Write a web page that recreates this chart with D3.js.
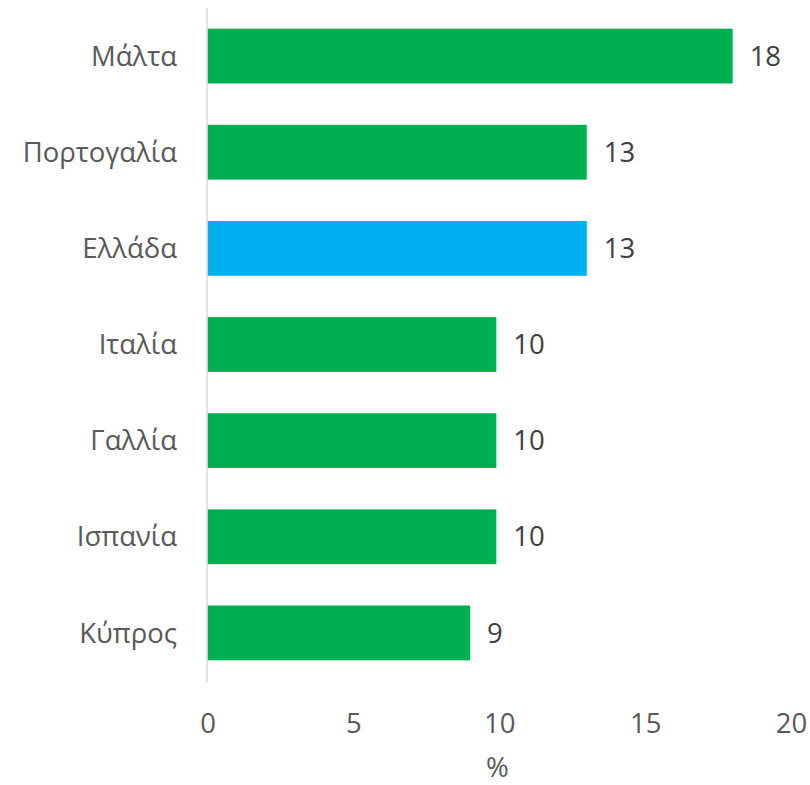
<!DOCTYPE html>
<html lang="el">
<head>
<meta charset="UTF-8">
<title>Chart</title>
<script src="https://cdn.jsdelivr.net/npm/d3@7"></script>
<style>
    body { margin: 0; background: #fff; }
    svg text { font-family: "Open Sans", "Noto Sans", sans-serif; }
</style>
</head>
<body>
<svg id="chart" width="810" height="785"></svg>
<script>
    // data
    var countries = ["Μάλτα", "Πορτογαλία", "Ελλάδα", "Ιταλία", "Γαλλία", "Ισπανία", "Κύπρος"];
    var values = [18.0, 13.0, 13.0, 9.9, 9.9, 9.9, 9.0];
    var highlight = ["Ελλάδα"];
    var xTicks = [0, 5, 10, 15, 20];
    var xTitle = "%";

    var data = countries.map((c, i) => ({ country: c, value: values[i] }));

    var svg = d3.select("#chart");
    var fontSize = 27.5;

    var x = d3.scaleLinear()
        .domain([0, 20])
        .range([207.5, 791]);

    var y = d3.scaleBand()
        .domain(countries)
        .range([8, 681])
        .paddingInner(0.43)
        .paddingOuter(0.215);

    // bars
    svg.append("g")
        .selectAll("rect")
        .data(data)
        .enter()
        .append("rect")
        .attr("x", x(0))
        .attr("y", d => y(d.country))
        .attr("width", d => x(d.value) - x(0))
        .attr("height", y.bandwidth())
        .attr("fill", d => highlight.includes(d.country) ? "#00B0F0" : "#00B050");

    // vertical axis line
    svg.append("line")
        .attr("x1", x(0) - 0.5).attr("x2", x(0) - 0.5)
        .attr("y1", 8).attr("y2", 682)
        .attr("stroke", "#d9d9d9")
        .attr("stroke-width", 1.5);

    // category labels
    svg.append("g")
        .selectAll("text")
        .data(countries)
        .enter()
        .append("text")
        .attr("x", 177)
        .attr("y", d => y(d) + y.bandwidth() / 2)
        .attr("dy", "0.35em")
        .attr("text-anchor", "end")
        .attr("fill", "#595959")
        .style("font-size", fontSize + "px")
        .text(d => d);

    // data labels
    svg.append("g")
        .selectAll("text")
        .data(data)
        .enter()
        .append("text")
        .attr("x", d => x(d.value) + 17)
        .attr("y", d => y(d.country) + y.bandwidth() / 2)
        .attr("dy", "0.35em")
        .attr("fill", "#404040")
        .style("font-size", fontSize + "px")
        .text(d => d3.format(".0f")(d.value));

    // x axis ticks (no lines)
    var xAxis = g => g
        .attr("transform", "translate(0,723)")
        .call(d3.axisBottom(x).tickValues(xTicks).tickSize(0).tickPadding(0))
        .call(g => g.select(".domain").remove())
        .call(g => g.selectAll("text")
            .attr("dy", "0.35em")
            .attr("fill", "#595959")
            .style("font-size", fontSize + "px")
            .style("font-family", "\"Open Sans\", sans-serif"));

    svg.append("g").call(xAxis);

    svg.append("text")
        .attr("x", (x(0) + x(20)) / 2 - 2)
        .attr("y", 767)
        .attr("dy", "0.35em")
        .attr("text-anchor", "middle")
        .attr("fill", "#595959")
        .style("font-size", fontSize + "px")
        .text(xTitle);
</script>
</body>
</html>
